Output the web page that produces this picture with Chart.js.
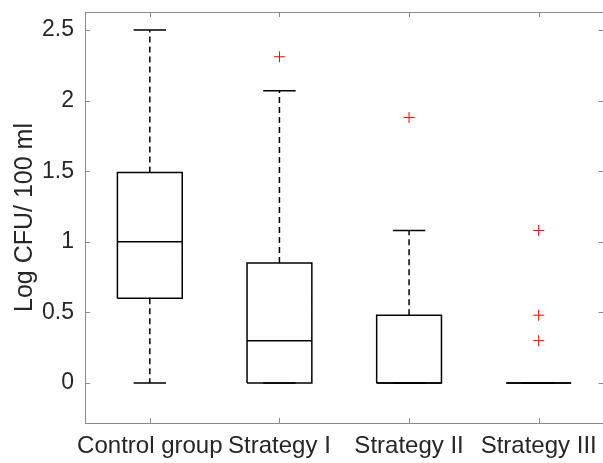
<!DOCTYPE html>
<html>
<head>
<meta charset="utf-8">
<script src="https://cdn.jsdelivr.net/npm/chart.js@4/dist/chart.umd.min.js"></script>
<style>
  html, body { margin: 0; padding: 0; overflow: hidden; background: #fff; }
  #wrap { width: 610px; height: 463px; }
</style>
</head>
<body>
<div id="wrap"><canvas id="c" width="610" height="463"></canvas></div>
<script>
// ---- Data ----
const categories   = ['Control group', 'Strategy I', 'Strategy II', 'Strategy III'];
const whiskerLow   = [0.00, 0.00, 0.00, 0.00];
const quartile1    = [0.60, 0.00, 0.00, 0.00];
const medians      = [1.00, 0.30, 0.00, 0.00];
const quartile3    = [1.49, 0.85, 0.48, 0.00];
const whiskerHigh  = [2.50, 2.07, 1.08, 0.00];
const outliers     = [[], [2.31], [1.88], [1.08, 0.48, 0.30]];
const yTickValues  = [0, 0.5, 1, 1.5, 2, 2.5];
const yTickLabels  = ['0', '0.5', '1', '1.5', '2', '2.5'];

const BOX_HALF = 0.25, CAP_HALF = 0.125;
const TEXT = '#262626', AXIS = '#8a8a8a';
const FONT = 'Liberation Sans, Arial, Helvetica, sans-serif';

const boxPts = [], medPts = [], whiskPts = [], capPts = [], outPts = [];
categories.forEach((c, i) => {
  const p = i + 1;
  boxPts.push({x: p - BOX_HALF, y: quartile1[i]}, {x: p + BOX_HALF, y: quartile1[i]},
              {x: p + BOX_HALF, y: quartile3[i]}, {x: p - BOX_HALF, y: quartile3[i]},
              {x: p - BOX_HALF, y: quartile1[i]}, {x: p, y: null});
  medPts.push({x: p - BOX_HALF, y: medians[i]}, {x: p + BOX_HALF, y: medians[i]}, {x: p, y: null});
  whiskPts.push({x: p, y: quartile3[i]}, {x: p, y: whiskerHigh[i]}, {x: p, y: null},
                {x: p, y: quartile1[i]}, {x: p, y: whiskerLow[i]}, {x: p, y: null});
  capPts.push({x: p - CAP_HALF, y: whiskerHigh[i]}, {x: p + CAP_HALF, y: whiskerHigh[i]}, {x: p, y: null},
              {x: p - CAP_HALF, y: whiskerLow[i]}, {x: p + CAP_HALF, y: whiskerLow[i]}, {x: p, y: null});
  outliers[i].forEach(v => outPts.push({x: p, y: v}));
});

const lineDefaults = { type: 'line', pointRadius: 0, borderColor: '#000', borderWidth: 1.5,
  spanGaps: false, tension: 0, fill: false, borderJoinStyle: 'miter' };

const matlabAxes = {
  id: 'matlabAxes',
  beforeDatasetsDraw(chart) {
    const {ctx, chartArea: a, scales: {x, y}} = chart;
    ctx.save();
    ctx.strokeStyle = AXIS;
    ctx.lineWidth = 1;
    ctx.strokeRect(Math.round(a.left) + 0.5, Math.round(a.top) + 0.5,
                   Math.round(a.right - a.left), Math.round(a.bottom - a.top));
    const L = 5;
    ctx.beginPath();
    [1, 2, 3, 4].forEach(v => {
      const px = Math.round(x.getPixelForValue(v)) + 0.5;
      ctx.moveTo(px, a.bottom); ctx.lineTo(px, a.bottom - L);
      ctx.moveTo(px, a.top); ctx.lineTo(px, a.top + L);
    });
    yTickValues.forEach(v => {
      const py = Math.round(y.getPixelForValue(v)) + 0.5;
      ctx.moveTo(a.left, py); ctx.lineTo(a.left + L, py);
      ctx.moveTo(a.right, py); ctx.lineTo(a.right - L, py);
    });
    ctx.stroke();
    ctx.restore();
  }
};

new Chart(document.getElementById('c'), {
  data: {
    datasets: [
      Object.assign({}, lineDefaults, { data: boxPts, order: 1 }),
      Object.assign({}, lineDefaults, { data: medPts, order: 2 }),
      Object.assign({}, lineDefaults, { data: capPts, order: 3 }),
      Object.assign({}, lineDefaults, { data: whiskPts, borderDash: [6, 4], order: 4 }),
      { type: 'scatter', data: outPts, pointStyle: 'cross', pointRadius: 5.5,
        borderColor: '#ff0000', backgroundColor: '#ff0000', pointBorderWidth: 1, borderWidth: 1, order: 0 }
    ]
  },
  options: {
    responsive: false,
    animation: false,
    events: [],
    layout: { padding: { top: 12, right: 4, left: 0, bottom: 0 } },
    plugins: { legend: { display: false }, tooltip: { enabled: false } },
    scales: {
      x: {
        type: 'linear', min: 0.5, max: 4.5,
        afterBuildTicks(s) { s.ticks = categories.map((c, i) => ({ value: i + 1 })); },
        afterFit(s) { s.height = 40; s.paddingLeft = 0; s.paddingRight = 0; },
        ticks: { callback: (v) => categories[v - 1] || '', color: TEXT, padding: 9,
                 maxRotation: 0, autoSkip: false, font: { family: FONT, size: 24 } },
        grid: { display: false, drawTicks: false },
        border: { display: false }
      },
      y: {
        type: 'linear', min: -0.283, max: 2.627,
        afterBuildTicks(s) { s.ticks = yTickValues.map(v => ({ value: v })); },
        afterFit(s) { s.width = 85; s.paddingTop = 0; s.paddingBottom = 0; },
        ticks: { callback: (v) => { const k = yTickValues.indexOf(v); return k >= 0 ? yTickLabels[k] : ''; },
                 color: TEXT, padding: 11, font: { family: FONT, size: 23 } },
        grid: { display: false, drawTicks: false },
        border: { display: false },
        title: { display: true, text: 'Log CFU/ 100 ml', color: TEXT,
                 font: { family: FONT, size: 25 }, padding: { top: 10, bottom: 0 } }
      }
    }
  },
  plugins: [matlabAxes]
});
</script>
</body>
</html>
